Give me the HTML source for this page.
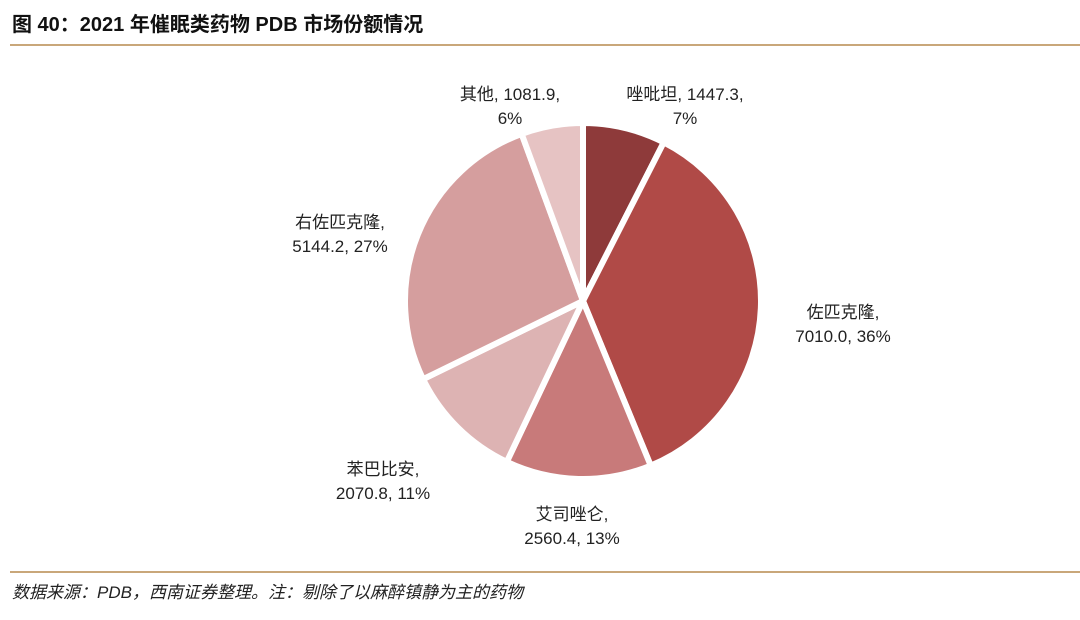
<!DOCTYPE html>
<html><head><meta charset="utf-8"><style>
body{margin:0;width:1080px;height:620px;background:#fff;font-family:"Liberation Sans","Noto Sans CJK SC",sans-serif;overflow:hidden;position:relative}
.title{position:absolute;left:12px;top:8px;font-size:20px;font-weight:bold;color:#111}
.rule{position:absolute;left:10px;width:1070px;height:2px;background:#C9A77A}
.src{position:absolute;left:12px;top:578px;font-size:17px;font-style:italic;color:#222}
</style></head><body>
<div class="title">图 40：2021 年催眠类药物 PDB 市场份额情况</div>
<div class="rule" style="top:44px"></div>
<svg id="c" width="1080" height="620" style="position:absolute;left:0;top:0"></svg>
<div class="rule" style="top:571px"></div>
<div class="src">数据来源：PDB，西南证券整理。注：剔除了以麻醉镇静为主的药物</div>
<script>
const categories=["唑吡坦","佐匹克隆","艾司唑仑","苯巴比安","右佐匹克隆","其他"];
const values=[1447.3,7010.0,2560.4,2070.8,5144.2,1081.9];
const colors=["#8E3A3A","#B04A47","#C87A7A","#DDB3B3","#D59E9E","#E6C3C3"];
const labelPos=[[685,100],[843,318],[572,520],[383,475],[340,228],[510,100]];
const svg=document.getElementById('c');
const NS="http://www.w3.org/2000/svg";
const cx=583,cy=301,r=178;
const total=values.reduce((a,b)=>a+b,0);
let a0=-Math.PI/2;
values.forEach((v,i)=>{
  const a1=a0+v/total*2*Math.PI;
  const x0=cx+r*Math.cos(a0),y0=cy+r*Math.sin(a0),x1=cx+r*Math.cos(a1),y1=cy+r*Math.sin(a1);
  const p=document.createElementNS(NS,'path');
  p.setAttribute('d',`M${cx},${cy}L${x0},${y0}A${r},${r} 0 ${a1-a0>Math.PI?1:0} 1 ${x1},${y1}Z`);
  p.setAttribute('fill',colors[i]);p.setAttribute('stroke','#fff');p.setAttribute('stroke-width','6');
  
  
  svg.appendChild(p);
  const pct=Math.round(v/total*100);
  const [lx,ly]=labelPos[i];
  const t=document.createElementNS(NS,'text');
  t.setAttribute('x',lx);t.setAttribute('y',ly);t.setAttribute('text-anchor','middle');
  t.setAttribute('font-size','17');t.setAttribute('fill','#222');
  
  
  const t1=document.createElementNS(NS,'tspan');t1.setAttribute('x',lx);
  const t2=document.createElementNS(NS,'tspan');t2.setAttribute('x',lx);t2.setAttribute('dy','24');
  if(i==1||i==2||i==3||i==4){t1.textContent=categories[i]+',';t2.textContent=v.toFixed(1)+', '+pct+'%';}
  else{t1.textContent=categories[i]+', '+v.toFixed(1)+',';t2.textContent=pct+'%';}
  t.appendChild(t1);t.appendChild(t2);svg.appendChild(t);
  a0=a1;
});
</script>
</body></html>
